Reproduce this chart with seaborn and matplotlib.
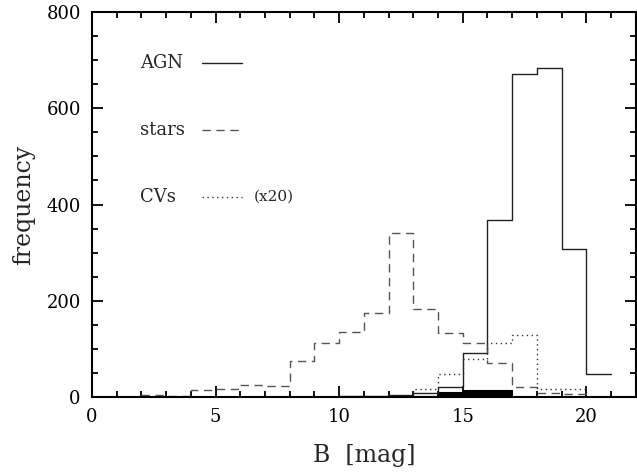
import numpy as np
import pandas as pd
import seaborn as sns
import matplotlib
matplotlib.use("Agg")
import matplotlib.pyplot as plt
from matplotlib.ticker import MultipleLocator

# bin left edges in B [mag], width 1
bin_left = [2, 3, 4, 5, 6, 7, 8, 9, 10, 11, 12, 13, 14, 15, 16, 17, 18, 19, 20]
agn = [0, 1, 1, 1, 1, 1, 1, 1, 2, 3, 5, 8, 20, 91, 368, 672, 684, 308, 47]
stars = [5, 2, 14, 17, 26, 22, 75, 113, 135, 174, 340, 182, 134, 113, 70, 20, 8, 6, 0]
cvs_x20 = [0, 0, 0, 0, 0, 0, 0, 0, 0, 0, 0, 16, 48, 80, 112, 128, 16, 16, 0]
other = [0, 0, 0, 0, 0, 0, 0, 0, 0, 0, 1, 3, 10, 14, 14, 0, 0, 0, 0]

edges = bin_left + [bin_left[-1] + 1]
df = pd.DataFrame({"B": np.array(bin_left) + 0.5, "agn": agn, "stars": stars,
                   "cvs": cvs_x20, "other": other})

sns.set_style("ticks")
plt.rcParams["font.family"] = ["DejaVu Serif"]

fig = plt.figure(figsize=(6.37, 4.74), dpi=100)
ax = fig.add_axes([0.1444, 0.1624, 0.8536, 0.8123])

sns.histplot(data=df, x="B", weights="other", bins=edges, element="step",
             fill=True, color="black", alpha=1, linewidth=0.8, ax=ax)
sns.histplot(data=df, x="B", weights="agn", bins=edges, element="step",
             fill=False, color="#222222", linewidth=1.0, ax=ax)
sns.histplot(data=df, x="B", weights="stars", bins=edges, element="step",
             fill=False, color="#555555", linewidth=1.0, linestyle=(0, (6, 4)), ax=ax)
sns.histplot(data=df, x="B", weights="cvs", bins=edges, element="step",
             fill=False, color="#333333", linewidth=1.0, linestyle=(0, (1, 2.5)), ax=ax)

ax.set_xlim(0, 22)
ax.set_ylim(0, 800)
ax.xaxis.set_major_locator(MultipleLocator(5))
ax.xaxis.set_minor_locator(MultipleLocator(1))
ax.yaxis.set_major_locator(MultipleLocator(200))
ax.yaxis.set_minor_locator(MultipleLocator(50))
ax.tick_params(which="both", direction="in", top=True, right=True, width=1.3,
               labelsize=13, colors="black", pad=8)
ax.tick_params(which="major", length=8)
ax.tick_params(which="minor", length=4)
for s in ax.spines.values():
    s.set_linewidth(1.5)
    s.set_color("black")

ax.set_xlabel("B  [mag]", fontsize=17, labelpad=13)
ax.set_ylabel("frequency", fontsize=17, labelpad=8)

# hand-drawn legend in axes coordinates
legend_rows = [("AGN", "-", None, "#222222"),
               ("stars", (0, (6, 4)), None, "#555555"),
               ("CVs", (0, (1, 2.5)), "(x20)", "#333333")]
for i, (name, ls, extra, col) in enumerate(legend_rows):
    yy = 0.868 - i * 0.174
    ax.text(0.088, yy, name, transform=ax.transAxes, fontsize=13, va="center")
    ax.plot([0.203, 0.275], [yy, yy], transform=ax.transAxes, color=col,
            linestyle=ls, linewidth=1.0)
    if extra:
        ax.text(0.298, yy, extra, transform=ax.transAxes, fontsize=11, va="center")

fig.savefig("out.png", dpi=100)
